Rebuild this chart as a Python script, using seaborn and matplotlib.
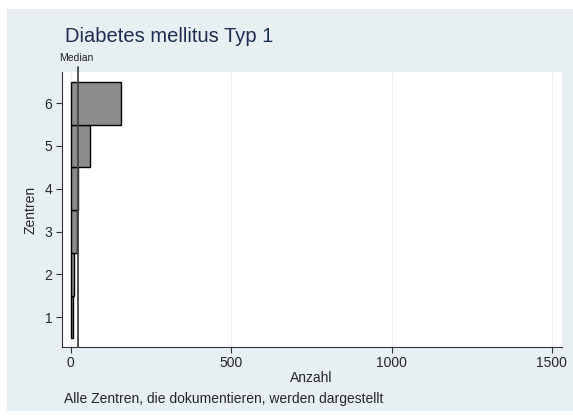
import matplotlib
matplotlib.use("Agg")
import matplotlib.pyplot as plt
from matplotlib.patches import Rectangle
import seaborn as sns
import pandas as pd

centers = [1, 2, 3, 4, 5, 6]
counts = [6, 11, 20, 22, 61, 155]
median_value = 21
x_ticks = [0, 500, 1000, 1500]

title = "Diabetes mellitus Typ 1"
note = "Alle Zentren, die dokumentieren, werden dargestellt"

sns.set_style("white")
plt.rcParams['font.family'] = ['Liberation Sans', 'DejaVu Sans']

panel_col = "#e8eff2"
df = pd.DataFrame({"Zentren": centers, "Anzahl": counts})

fig = plt.figure(figsize=(5.73, 4.16), dpi=100)
fig.patch.set_facecolor("white")
# light panel behind everything
fig.patches.append(Rectangle((7 / 573, 1 - 411 / 416), 566 / 573, 402 / 416,
                             transform=fig.transFigure, facecolor=panel_col,
                             edgecolor="none", zorder=-10))

ax = fig.add_axes([61.5 / 573, 1 - 347 / 416, 500 / 573, 275 / 416])
ax.set_facecolor("white")

sns.barplot(data=df, x="Anzahl", y="Zentren", orient="h", native_scale=True,
            width=1.0, color="#8c8c8c", saturation=1, edgecolor="black",
            linewidth=1.0, ax=ax, zorder=3)

ax.set_xlim(-29, 1530)
ax.set_ylim(0.30, 6.73)
ax.set_xticks(x_ticks)
ax.set_yticks(centers)
ax.grid(axis="x", color="#edf1f3", linewidth=0.8, zorder=0)
ax.grid(axis="y", visible=False)

for s in ["top", "right"]:
    ax.spines[s].set_visible(False)
for s in ["left", "bottom"]:
    ax.spines[s].set_color("#333333")
    ax.spines[s].set_linewidth(0.8)
ax.tick_params(axis="both", which="major", length=4, width=0.8, color="#333333",
               labelsize=10, direction="out", pad=2.5)
ax.tick_params(axis="x", bottom=True)
ax.tick_params(axis="y", left=True)

# median line reaching above the plot area
ax.axvline(median_value, ymin=0, ymax=1.018, color="#444444", linewidth=1.3,
           clip_on=False, zorder=4)
fig.text(76 / 573, 1 - 61 / 416, "Median", ha="center", va="baseline",
         fontsize=7.5, color="#222222")

ax.set_xlabel("Anzahl", fontsize=10, labelpad=1)
ax.set_ylabel("Zentren", fontsize=10, labelpad=5)

fig.text(64 / 573, 1 - 403 / 416, note, ha="left", va="baseline", fontsize=10)
fig.text(65 / 573, 1 - 42 / 416, title, ha="left", va="baseline", fontsize=14.5,
         color="#1e2d50")

fig.savefig("out.png", dpi=100, facecolor=fig.get_facecolor())
